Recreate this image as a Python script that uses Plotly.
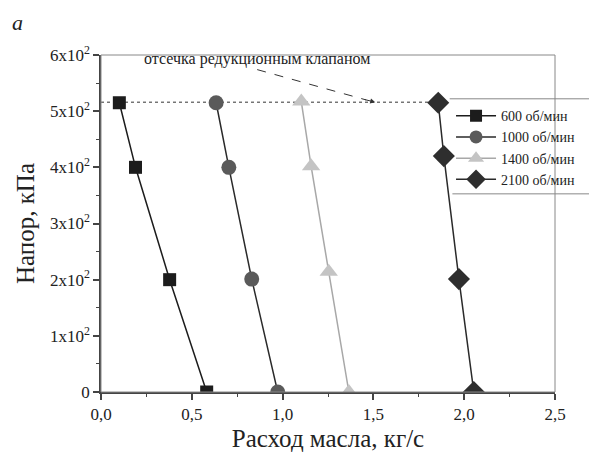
import plotly.graph_objects as go

# Data (flow kg/s, head kPa)
x600 = [0.101, 0.190, 0.378, 0.582]
y600 = [515, 400, 200, 0]
x1000 = [0.634, 0.704, 0.830, 0.973]
y1000 = [515, 400, 201, 0]
x1400 = [1.103, 1.157, 1.254, 1.365]
y1400 = [517, 402, 214, 0]
x2100 = [1.857, 1.888, 1.971, 2.053]
y2100 = [515, 420, 201, 0]
names = ["600 об/мин", "1000 об/мин", "1400 об/мин", "2100 об/мин"]
cutoff = 516
xticks = [0, 0.5, 1.0, 1.5, 2.0, 2.5]
xticktext = ["0,0", "0,5", "1,0", "1,5", "2,0", "2,5"]
yticks = [0, 100, 200, 300, 400, 500, 600]
yticktext = ["0", "1x10<sup>2</sup>", "2x10<sup>2</sup>", "3x10<sup>2</sup>",
             "4x10<sup>2</sup>", "5x10<sup>2</sup>", "6x10<sup>2</sup>"]

FONT = "Liberation Serif"

fig = go.Figure()
series = [
    (x600, y600, names[0], "square", "#1c1c1c", "#1c1c1c", 13, 12),
    (x1000, y1000, names[1], "circle", "#5a5a5a", "#2a2a2a", 15, 13),
    (x1400, y1400, names[2], "triangle-up", "#c4c4c4", "#a8a8a8", 16, 14),
    (x2100, y2100, names[3], "diamond", "#2e2e2e", "#2a2a2a", 17, 15),
]
for xs, ys, nm, sym, mc, lc, ms, lms in series:
    fig.add_trace(go.Scatter(
        x=xs, y=ys, name=nm, mode="lines+markers", showlegend=False,
        line=dict(color=lc, width=1.5),
        marker=dict(symbol=sym, size=ms, color=mc, line=dict(width=0)),
    ))
    # legend entry with a smaller symbol
    fig.add_trace(go.Scatter(
        x=[None], y=[None], name=nm, mode="lines+markers",
        line=dict(color=lc, width=1.5),
        marker=dict(symbol=sym, size=lms, color=mc, line=dict(width=0)),
    ))

# dotted cutoff line
fig.add_shape(type="line", xref="x", yref="y", x0=0, x1=x2100[0], y0=cutoff, y1=cutoff,
              line=dict(color="#333333", width=1, dash="dot"), layer="below")

# annotation text + dashed arrow
fig.add_annotation(x=0.86, y=592, xref="x", yref="y", text="отсечка редукционным клапаном",
                   showarrow=False, font=dict(family=FONT, size=16, color="#222222"))
fig.add_shape(type="line", xref="x", yref="y", x0=0.86, y0=574, x1=1.46, y1=520,
              line=dict(color="#333333", width=1, dash="dash"))
fig.add_annotation(x=1.51, y=cutoff, ax=-12, ay=-3, xref="x", yref="y", text="",
                   showarrow=True, arrowhead=2, arrowsize=1, arrowwidth=1, arrowcolor="#333333")

# plot frame (top/right)
fig.add_shape(type="rect", xref="paper", yref="paper", x0=0, x1=1, y0=0, y1=1,
              line=dict(color="#888888", width=1))
# legend box lines
fig.add_shape(type="line", xref="paper", yref="paper", x0=0.768, x1=1.3, y0=0.870, y1=0.870,
              line=dict(color="#888888", width=1))
fig.add_shape(type="line", xref="paper", yref="paper", x0=0.774, x1=1.3, y0=0.588, y1=0.588,
              line=dict(color="#888888", width=1))

fig.update_layout(
    width=597, height=455,
    margin=dict(l=93, r=50, t=47, b=71),
    paper_bgcolor="white", plot_bgcolor="white",
    font=dict(family=FONT, size=17, color="#222222"),
    showlegend=True,
    legend=dict(x=0.771, y=0.866, xanchor="left", yanchor="top", bgcolor="rgba(0,0,0,0)",
                borderwidth=0, font=dict(family=FONT, size=14, color="#222222"),
                tracegroupgap=0, itemwidth=40),
    xaxis=dict(range=[0, 2.5], tickvals=xticks, ticktext=xticktext, showgrid=False,
               zeroline=False, showline=True, linecolor="#444444", linewidth=1.5,
               ticks="outside", ticklen=6, tickcolor="#444444", tickwidth=1.5,
               minor=dict(dtick=0.25, ticks="outside", ticklen=3, tickcolor="#444444", tickwidth=1),
               title=dict(text="Расход масла, кг/с", font=dict(family=FONT, size=25), standoff=6)),
    yaxis=dict(range=[0, 600], tickvals=yticks, ticktext=yticktext, showgrid=False,
               zeroline=False, showline=True, linecolor="#444444", linewidth=1.5,
               ticks="outside", ticklen=6, tickcolor="#444444", tickwidth=1.5,
               minor=dict(dtick=50, ticks="outside", ticklen=3, tickcolor="#444444", tickwidth=1),
               title=dict(text="Напор, кПа", font=dict(family=FONT, size=25), standoff=8)),
)
# italic label 'а' at the top-left
fig.add_annotation(x=-0.185, y=1.095, xref="paper", yref="paper", text="<i>а</i>",
                   xanchor="center", yanchor="middle",
                   showarrow=False, font=dict(family=FONT, size=22, color="#222222"))

fig.write_html("out.html")
